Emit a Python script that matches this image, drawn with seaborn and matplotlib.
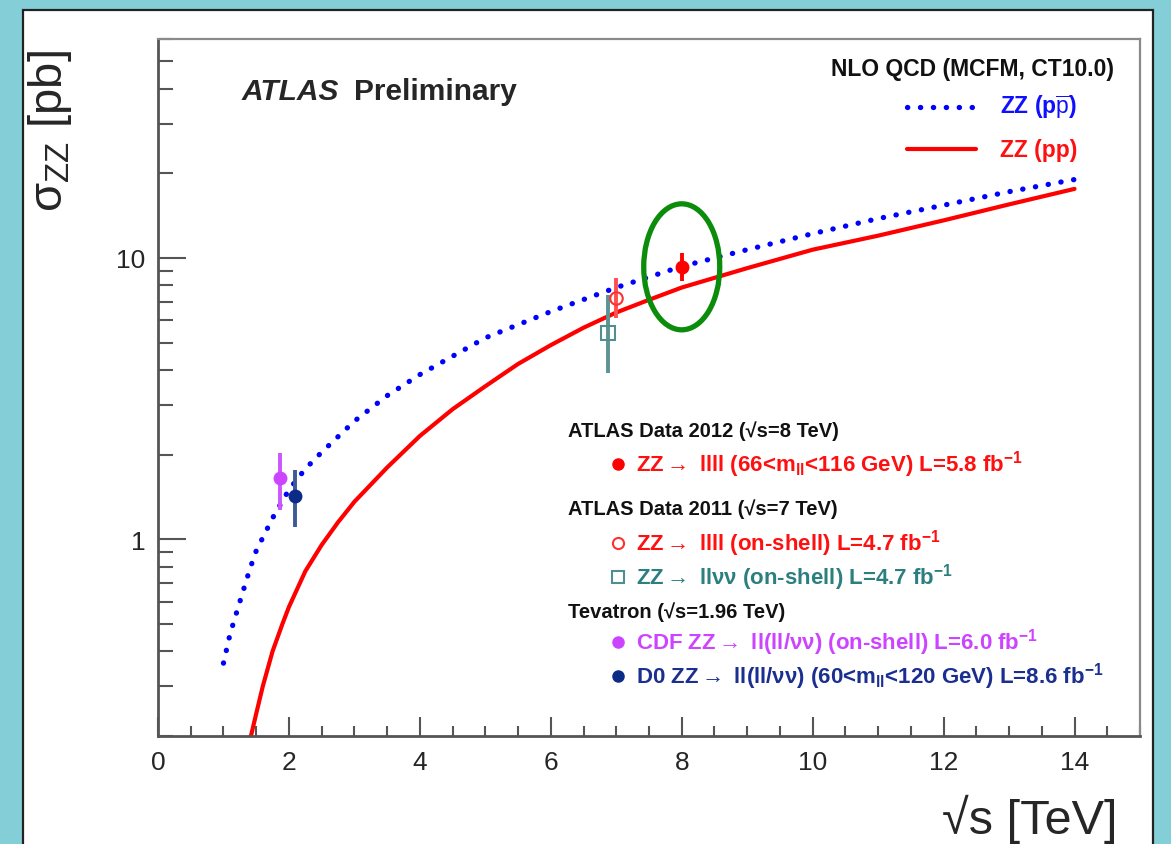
import numpy as np
import pandas as pd
import matplotlib
matplotlib.use("Agg")
import matplotlib.pyplot as plt
import matplotlib.transforms as mtransforms
from matplotlib.patches import Rectangle, Ellipse
from matplotlib.lines import Line2D
from matplotlib.ticker import FixedLocator, MultipleLocator, NullFormatter, FixedFormatter
import seaborn as sns

# ---------------- data ----------------
# NLO QCD (MCFM, CT10.0) predictions
ppbar_sqrts = [1.0, 1.1, 1.25, 1.4, 1.5, 1.75, 2.0, 2.25, 2.5, 3.0, 3.5, 4.0, 5.0, 6.0, 7.0, 8.0, 9.0, 10.0, 11.0, 12.0, 13.0, 14.0]
ppbar_sigma = [0.363, 0.46, 0.60, 0.78, 0.91, 1.19, 1.50, 1.78, 2.04, 2.63, 3.24, 3.85, 5.2, 6.45, 7.85, 9.33, 10.7, 12.2, 13.8, 15.4, 17.2, 19.0]
pp_sqrts = [1.42, 1.5, 1.6, 1.75, 1.9, 2.0, 2.25, 2.5, 2.75, 3.0, 3.5, 4.0, 4.5, 5.0, 5.5, 6.0, 6.5, 7.0, 7.5, 8.0, 9.0, 10.0, 11.0, 12.0, 13.0, 14.0]
pp_sigma = [0.20, 0.24, 0.30, 0.40, 0.50, 0.575, 0.77, 0.955, 1.15, 1.36, 1.80, 2.33, 2.90, 3.5, 4.2, 4.9, 5.65, 6.4, 7.1, 7.85, 9.2, 10.7, 12.0, 13.6, 15.5, 17.6]

# measurements
meas_names = ["ATLAS 2012 llll", "ATLAS 2011 llll", "ATLAS 2011 llvv", "CDF", "D0"]
meas_sqrts = [8.0, 7.0, 6.87, 1.86, 2.09]
meas_sigma = [9.3, 7.2, 5.4, 1.65, 1.43]
meas_err_lo = [1.0, 1.1, 1.5, 0.38, 0.32]
meas_err_hi = [1.1, 1.3, 2.0, 0.37, 0.33]

x_ticks = [0, 2, 4, 6, 8, 10, 12, 14]
x_ticklabels = ["0", "2", "4", "6", "8", "10", "12", "14"]
y_ticks = [1, 10]
y_ticklabels = ["1", "10"]
y_minor = [0.2, 0.3, 0.4, 0.5, 0.6, 0.7, 0.8, 0.9, 2, 3, 4, 5, 6, 7, 8, 9, 20, 30, 40, 50, 60]

# ---------------- style ----------------
sns.set_style("white")
plt.rcParams["font.family"] = ["Liberation Sans", "DejaVu Sans"]
plt.rcParams["mathtext.fontset"] = "custom"
plt.rcParams["mathtext.rm"] = "Liberation Sans"
plt.rcParams["mathtext.it"] = "Liberation Sans:italic"
plt.rcParams["mathtext.bf"] = "Liberation Sans:bold"
plt.rcParams["mathtext.default"] = "regular"

W, H = 1171, 845
def P(x, y):
    return (x / W, 1 - y / H)

TEAL = "#84cfd7"
fig = plt.figure(figsize=(W / 100, H / 100), dpi=100, facecolor=TEAL)
fig.add_artist(Rectangle(P(23, 850), (1153 - 23) / W, (850 - 11) / H, transform=fig.transFigure,
                         facecolor="white", edgecolor="#222222", lw=1.6, zorder=-10))

ax = fig.add_axes([158 / W, 1 - 737 / H, (1140 - 158) / W, (737 - 40) / H])
ax.set_facecolor("white")

df_ppbar = pd.DataFrame({"sqrts": ppbar_sqrts, "sigma": ppbar_sigma})
df_pp = pd.DataFrame({"sqrts": pp_sqrts, "sigma": pp_sigma})

sns.lineplot(data=df_ppbar, x="sqrts", y="sigma", ax=ax, color="#0000ff", lw=3.8,
             linestyle=(0, (0.05, 2.4)), dash_capstyle="round", estimator=None, sort=False)
sns.lineplot(data=df_pp, x="sqrts", y="sigma", ax=ax, color="#ff0000", lw=3.0,
             estimator=None, sort=False)

ax.set_yscale("log")
ax.set_xlim(0, 15)
ax.set_ylim(0.2, 60)

styles = [
    dict(marker="o", color="#ff0000", mfc="#ff0000", mec="#ff0000", ms=9, ecolor="#ff0000"),
    dict(marker="o", color="#ff3030", mfc="none", mec="#ff3030", ms=9, ecolor="#ff5050", mew=1.5),
    dict(marker="s", color="#4f8f8f", mfc="none", mec="#4f8f8f", ms=10, ecolor="#5c9393", mew=1.5),
    dict(marker="o", color="#cc44ff", mfc="#cc44ff", mec="#cc44ff", ms=9, ecolor="#cc55ff"),
    dict(marker="o", color="#0c2b86", mfc="#0c2b86", mec="#0c2b86", ms=9, ecolor="#3d5a96"),
]
for i in range(len(meas_names)):
    st = styles[i]
    ax.errorbar([meas_sqrts[i]], [meas_sigma[i]],
                yerr=[[meas_err_lo[i]], [meas_err_hi[i]]],
                fmt=st["marker"], color=st["color"], mfc=st["mfc"], mec=st["mec"],
                ms=st["ms"], mew=st.get("mew", 1.0), ecolor=st["ecolor"],
                elinewidth=2.8, capsize=0, zorder=5)

# highlight ellipse around 8 TeV point
tr = fig.dpi_scale_trans + mtransforms.ScaledTranslation(meas_sqrts[0], meas_sigma[0], ax.transData)
ax.add_patch(Ellipse((0, 0), 0.76, 1.26, transform=tr, fill=False, edgecolor="#0b8c0b", lw=3.8, zorder=6,
                     clip_on=False))

# ticks
ax.xaxis.set_major_locator(FixedLocator(x_ticks))
ax.xaxis.set_major_formatter(FixedFormatter(x_ticklabels))
ax.xaxis.set_minor_locator(MultipleLocator(0.5))
ax.yaxis.set_major_locator(FixedLocator(y_ticks))
ax.yaxis.set_major_formatter(FixedFormatter(y_ticklabels))
ax.yaxis.set_minor_locator(FixedLocator(y_minor))
ax.yaxis.set_minor_formatter(NullFormatter())

ax.tick_params(axis="x", which="major", direction="in", length=14, width=1.5, color="#555555",
               labelsize=19, pad=10, bottom=True, top=False)
ax.tick_params(axis="x", which="minor", direction="in", length=7, width=1.5, color="#555555",
               bottom=True, top=False)
ax.tick_params(axis="y", which="major", direction="in", length=20, width=1.5, color="#555555",
               labelsize=19, pad=9, left=True, right=False)
ax.tick_params(axis="y", which="minor", direction="in", length=11, width=1.5, color="#555555",
               left=True, right=False)
for s in ["left", "bottom"]:
    ax.spines[s].set_color("#555555")
    ax.spines[s].set_linewidth(2.0)
for s in ["top", "right"]:
    ax.spines[s].set_color("#8a8a8a")
    ax.spines[s].set_linewidth(1.6)
ax.set_xlabel("")
ax.set_ylabel("")

# axis titles
fig.text(*P(50, 50), "σ$_{ZZ}$ [pb]", rotation=90, ha="center", va="top", fontsize=34)
fig.text(*P(1118, 834), "√s [TeV]", ha="right", va="baseline", fontsize=35)

# ATLAS label
fig.text(*P(242, 100), "ATLAS", fontsize=21.5, fontweight="bold", fontstyle="italic",
         ha="left", va="baseline")
fig.text(*P(354, 100), "Preliminary", fontsize=21.5, fontweight="bold", ha="left", va="baseline")

# theory legend
fig.text(*P(1114, 76), "NLO QCD (MCFM, CT10.0)", fontsize=16.5, fontweight="bold", ha="right",
         va="baseline", color="#111111")
fig.add_artist(Line2D([907 / W, 976 / W], [1 - 108 / H, 1 - 108 / H], transform=fig.transFigure,
                      color="#0000ff", lw=3.8, linestyle=(0, (0.05, 2.4)), dash_capstyle="round"))
fig.text(*P(1000, 114), r"ZZ (p$\overline{\mathrm{p}}$)", fontsize=16.5, fontweight="bold",
         color="#1010ff", ha="left", va="baseline")
fig.add_artist(Line2D([907 / W, 976 / W], [1 - 150 / H, 1 - 150 / H], transform=fig.transFigure,
                      color="#ff0000", lw=3.0))
fig.text(*P(1000, 157), "ZZ (pp)", fontsize=16.5, fontweight="bold",
         color="#ff1010", ha="left", va="baseline")

# data legend
hdr_kw = dict(fontsize=14.5, fontweight="bold", color="#111111", ha="left", va="baseline")
itm_kw = dict(fontsize=16, fontweight="bold", ha="left", va="baseline")
AR = r"$\rightarrow$"
fig.text(*P(568, 437), "ATLAS Data 2012 (√s=8 TeV)", **hdr_kw)
fig.text(*P(636, 472), "ZZ" + AR + " llll (66<m$_{ll}$<116 GeV) L=5.8 fb$^{-1}$", color="#ff1010", **itm_kw)
fig.text(*P(568, 515), "ATLAS Data 2011 (√s=7 TeV)", **hdr_kw)
fig.text(*P(636, 551), "ZZ" + AR + " llll (on-shell) L=4.7 fb$^{-1}$", color="#ff1010", **itm_kw)
fig.text(*P(636, 585), "ZZ" + AR + " llνν (on-shell) L=4.7 fb$^{-1}$", color="#2c7f7f", **itm_kw)
fig.text(*P(568, 618), "Tevatron (√s=1.96 TeV)", **hdr_kw)
fig.text(*P(636, 650), "CDF ZZ" + AR + " ll(ll/νν) (on-shell) L=6.0 fb$^{-1}$", color="#cc44ff", **itm_kw)
fig.text(*P(636, 684), "D0 ZZ" + AR + " ll(ll/νν) (60<m$_{ll}$<120 GeV) L=8.6 fb$^{-1}$", color="#1a2f8f", **itm_kw)

leg_markers = [(465, styles[0]), (544, styles[1]), (578, styles[2]), (643, styles[3]), (677, styles[4])]
for yy, st in leg_markers:
    fig.add_artist(Line2D([618 / W], [1 - yy / H], transform=fig.transFigure, marker=st["marker"],
                          mfc=st["mfc"], mec=st["mec"], ms=st["ms"] - 1, mew=st.get("mew", 1.0),
                          linestyle="none"))

fig.savefig("out.png", dpi=100, facecolor=TEAL)
